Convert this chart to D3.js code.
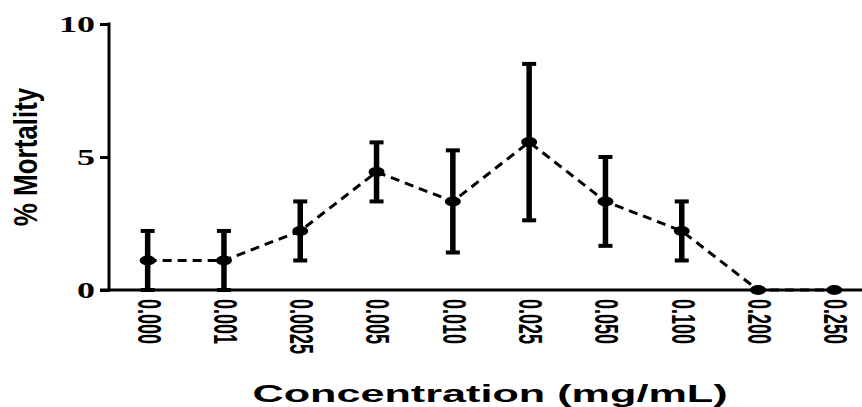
<!DOCTYPE html>
<html>
<head>
<meta charset="utf-8">
<script src="https://cdn.jsdelivr.net/npm/d3@7"></script>
<style>
  body { margin: 0; background: #fff; }
  svg { display: block; }
</style>
</head>
<body>
<div id="chart-area"></div>
<script>
// data
var concentrations = ["0.000", "0.001", "0.0025", "0.005", "0.010", "0.025", "0.050", "0.100", "0.200", "0.250"];
var mortality = [1.11, 1.11, 2.22, 4.44, 3.33, 5.56, 3.33, 2.22, 0, 0];
var errors = [1.11, 1.11, 1.11, 1.11, 1.92, 2.94, 1.67, 1.11, 0, 0];
var yTicks = [0, 5, 10];

var width = 862;
var height = 407;

var svg = d3.select("#chart-area")
    .append("svg")
    .attr("width", width)
    .attr("height", height);

var x = d3.scalePoint()
    .domain(concentrations)
    .range([109.5, 872.5])
    .padding(0.5);

var y = d3.scaleLinear()
    .domain([0, 10])
    .range([290, 24]);

// Y axis
var yAxisGroup = svg.append("g")
    .attr("transform", "translate(109,0)")
    .call(d3.axisLeft(y).tickValues(yTicks).tickSize(9).tickFormat(""));
yAxisGroup.select(".domain").remove();
yAxisGroup.selectAll("line").attr("stroke", "#000").attr("stroke-width", 3);
svg.append("line")
    .attr("x1", 109).attr("x2", 109)
    .attr("y1", y(10) - 1.5).attr("y2", y(0) + 1.5)
    .attr("stroke", "#000").attr("stroke-width", 3);

// X axis line
svg.append("line")
    .attr("x1", 100).attr("x2", width)
    .attr("y1", y(0)).attr("y2", y(0))
    .attr("stroke", "#000").attr("stroke-width", 3);

// y tick labels
svg.selectAll(".ytick")
    .data(yTicks)
    .enter().append("text")
    .attr("class", "ytick")
    .attr("transform", function(d) { return "translate(95," + (y(d) + 8) + ") scale(1.5,1)"; })
    .attr("text-anchor", "end")
    .attr("font-family", "Liberation Serif, serif")
    .attr("font-weight", "bold")
    .attr("font-size", "24px")
    .text(function(d) { return d; });

// x tick labels, rotated
svg.selectAll(".xtick")
    .data(concentrations)
    .enter().append("text")
    .attr("class", "xtick")
    .attr("transform", function(d) { return "translate(" + (x(d) + 1) + ",299) scale(1.8,1) rotate(90)"; })
    .attr("text-anchor", "start")
    .attr("dominant-baseline", "central")
    .attr("font-family", "Liberation Sans, Arial, sans-serif")
    .attr("font-weight", "bold")
    .attr("font-size", "18px")
    .text(function(d) { return d; });

// axis titles
svg.append("text")
    .attr("transform", "translate(37,157) scale(1.29,1) rotate(-90)")
    .attr("text-anchor", "middle")
    .attr("font-family", "Liberation Sans, Arial, sans-serif")
    .attr("font-weight", "bold")
    .attr("font-size", "26px")
    .text("% Mortality");

svg.append("text")
    .attr("transform", "translate(490,402) scale(1.8,1)")
    .attr("text-anchor", "middle")
    .attr("font-family", "Liberation Sans, Arial, sans-serif")
    .attr("font-weight", "bold")
    .attr("font-size", "24px")
    .text("Concentration (mg/mL)");

// dashed line
var line = d3.line()
    .x(function(d, i) { return x(concentrations[i]); })
    .y(function(d) { return y(d); });

svg.append("path")
    .datum(mortality)
    .attr("d", line)
    .attr("fill", "none")
    .attr("stroke", "#000")
    .attr("stroke-width", 3)
    .attr("stroke-dasharray", "9,6");

// error bars
var bars = svg.selectAll(".err")
    .data(mortality)
    .enter().append("g")
    .attr("class", "err")
    .filter(function(d, i) { return errors[i] > 0; });

bars.append("line")
    .attr("x1", function(d, i) { return x(concentrations[i]); })
    .attr("x2", function(d, i) { return x(concentrations[i]); })
    .attr("y1", function(d, i) { return y(d + errors[i]); })
    .attr("y2", function(d, i) { return y(Math.max(0, d - errors[i])); })
    .attr("stroke", "#000")
    .attr("stroke-width", 5.5);

bars.append("line")
    .attr("x1", function(d, i) { return x(concentrations[i]) - 7; })
    .attr("x2", function(d, i) { return x(concentrations[i]) + 7; })
    .attr("y1", function(d, i) { return y(d + errors[i]); })
    .attr("y2", function(d, i) { return y(d + errors[i]); })
    .attr("stroke", "#000")
    .attr("stroke-width", 4);

bars.append("line")
    .attr("x1", function(d, i) { return x(concentrations[i]) - 7; })
    .attr("x2", function(d, i) { return x(concentrations[i]) + 7; })
    .attr("y1", function(d, i) { return y(Math.max(0, d - errors[i])); })
    .attr("y2", function(d, i) { return y(Math.max(0, d - errors[i])); })
    .attr("stroke", "#000")
    .attr("stroke-width", 4);

// points
svg.selectAll(".pt")
    .data(mortality)
    .enter().append("ellipse")
    .attr("class", "pt")
    .attr("cx", function(d, i) { return x(concentrations[i]); })
    .attr("cy", function(d) { return y(d); })
    .attr("rx", 8)
    .attr("ry", 5)
    .attr("fill", "#000");
</script>
</body>
</html>
